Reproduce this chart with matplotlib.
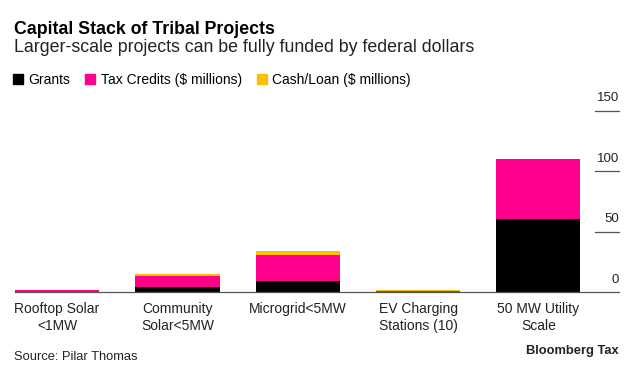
import matplotlib.pyplot as plt
from matplotlib.patches import Patch

plt.rcParams['font.family'] = ['Liberation Sans', 'DejaVu Sans']

projects = ["Rooftop Solar\n<1MW", "Community\nSolar<5MW", "Microgrid<5MW",
            "EV Charging\nStations (10)", "50 MW Utility\nScale"]
grants = [0.3, 4.4, 9.3, 0.3, 60]
tax_credits = [1.4, 8.8, 21.3, 0.9, 50]
cash_loan = [0.0, 1.4, 3.6, 0.3, 0]
yticks = [0, 50, 100, 150]

BLACK = "#000000"
PINK = "#ff008c"
YELLOW = "#fcc000"

fig = plt.figure(figsize=(6.33, 3.78), dpi=100)
ax = fig.add_axes([15 / 633, 86 / 378, 604 / 633, 192 / 378])

x = range(len(projects))
bottom2 = [g + t for g, t in zip(grants, tax_credits)]
ax.bar(x, grants, width=0.7, color=BLACK, label="Grants")
ax.bar(x, tax_credits, width=0.7, bottom=grants, color=PINK, label="Tax Credits ($ millions)")
ax.bar(x, cash_loan, width=0.7, bottom=bottom2, color=YELLOW, label="Cash/Loan ($ millions)")

ax.set_xlim(-0.35, 4.67)
ax.set_ylim(0, 158.7)

for s in ["top", "left", "right"]:
    ax.spines[s].set_visible(False)
ax.spines["bottom"].set_color("#555555")
ax.spines["bottom"].set_linewidth(0.9)

ax.set_yticks([])
ax.set_xticks(list(x))
ax.set_xticklabels(projects, fontsize=10, linespacing=1.3, color="#222222")
ax.tick_params(axis="x", length=0, pad=7)

# right-side value ticks, Bloomberg style
trans = ax.get_yaxis_transform()
for v in yticks:
    if v > 0:
        ax.plot([0.960, 1.0], [v, v], color="#555555", lw=0.9, transform=trans, clip_on=False)
    ax.annotate(str(v), xy=(1.0, v), xycoords=trans, xytext=(0, 4.5), textcoords="offset points",
                ha="right", va="bottom", fontsize=9.5, color="#222222")

fig.text(14 / 633, 1 - 30 / 378, "Capital Stack of Tribal Projects", fontsize=12.8,
         fontweight="bold", va="center", color="#000000")
fig.text(14 / 633, 1 - 48 / 378, "Larger-scale projects can be fully funded by federal dollars",
         fontsize=12.8, va="center", color="#222222")

handles = [Patch(color=BLACK), Patch(color=PINK), Patch(color=YELLOW)]
labels = ["Grants", "Tax Credits ($ millions)", "Cash/Loan ($ millions)"]
fig.legend(handles, labels, loc="center left", bbox_to_anchor=(13 / 633, 1 - 80 / 378), ncol=3,
           frameon=False, fontsize=10, handlelength=0.7, handleheight=0.7,
           handletextpad=0.4, columnspacing=1.1, borderpad=0, borderaxespad=0)

fig.text(14 / 633, 1 - 357 / 378, "Source: Pilar Thomas", fontsize=9.3, va="center", color="#222222")
fig.text(619 / 633, 1 - 351 / 378, "Bloomberg Tax", fontsize=9.3, fontweight="bold",
         va="center", ha="right", color="#222222")

fig.savefig("out.png", dpi=100)
